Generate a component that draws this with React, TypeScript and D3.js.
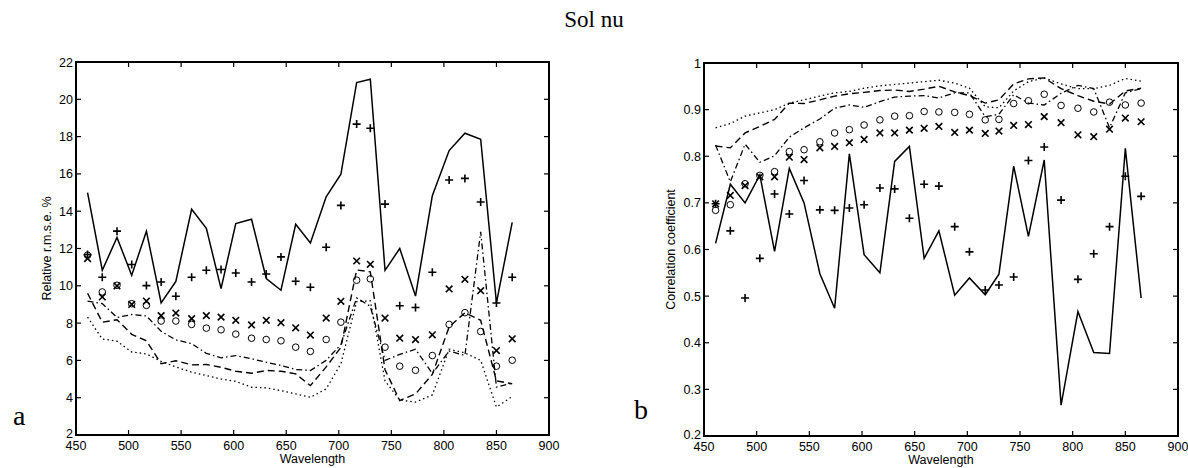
import React from "react";
import * as d3 from "d3";

const wavelengths = [461, 475, 489, 503, 517, 531, 545, 560, 574, 588, 602, 617, 631, 645, 659, 673, 688, 702, 717, 730, 744, 758, 773, 789, 805, 820, 835, 850, 865];

// Panel a: relative r.m.s.e. %
const rmseSolid = [15.0, 10.83, 12.59, 10.56, 12.93, 9.08, 10.24, 14.1, 13.08, 9.85, 13.34, 13.57, 10.39, 9.76, 13.3, 12.3, 14.77, 15.98, 20.9, 21.08, 10.83, 12.0, 9.45, 14.83, 17.25, 18.18, 17.86, 9.08, 13.4];
const rmsePlus = [11.68, 10.46, 12.93, 11.14, 10.01, 10.2, 9.44, 10.46, 10.83, 10.87, 10.69, 10.2, 10.63, 11.55, 10.24, 9.92, 12.07, 14.31, 18.67, 18.45, 14.38, 8.93, 8.84, 10.73, 15.67, 15.76, 14.49, 9.08, 10.46];
const rmseCross = [11.46, 9.4, 9.99, 9.0, 9.18, 8.4, 8.54, 8.24, 8.4, 8.32, 8.15, 7.9, 8.15, 8.02, 7.75, 7.36, 8.27, 9.17, 11.33, 11.15, 8.27, 7.19, 7.12, 7.37, 9.83, 10.35, 9.74, 6.53, 7.16];
const rmseCircle = [11.64, 9.67, 10.03, 9.04, 8.95, 8.11, 8.11, 7.93, 7.73, 7.64, 7.41, 7.19, 7.12, 7.05, 6.71, 6.48, 7.12, 8.05, 10.3, 10.37, 6.71, 5.69, 5.47, 6.26, 7.93, 8.56, 7.55, 5.69, 6.01];
const rmseDashed = [9.6, 8.05, 8.18, 7.4, 7.05, 5.82, 5.98, 5.76, 5.78, 5.63, 5.42, 5.31, 5.46, 5.42, 5.28, 4.65, 5.65, 6.7, 10.85, 10.75, 5.5, 3.85, 4.2, 5.25, 7.8, 8.55, 8.15, 4.9, 4.75];
const rmseDashDot = [9.18, 9.05, 8.3, 8.46, 8.38, 7.56, 7.1, 6.9, 6.38, 6.14, 6.26, 6.09, 5.9, 5.73, 5.51, 5.46, 6.0, 6.85, 9.35, 8.9, 6.0, 6.32, 6.6, 5.3, 6.5, 6.27, 12.9, 4.57, 4.78];
const rmseDotted = [8.32, 7.15, 7.03, 6.45, 6.35, 5.95, 5.65, 5.37, 5.19, 5.0, 4.88, 4.56, 4.53, 4.38, 4.2, 4.02, 4.47, 5.82, 9.15, 9.2, 4.9, 3.88, 3.76, 4.15, 6.6, 6.4, 6.0, 3.5, 4.06];

// Panel b: correlation coefficient
const corrSolid = [0.613, 0.74, 0.70, 0.76, 0.596, 0.774, 0.70, 0.548, 0.474, 0.805, 0.589, 0.55, 0.789, 0.821, 0.581, 0.64, 0.502, 0.539, 0.503, 0.547, 0.779, 0.628, 0.792, 0.266, 0.467, 0.379, 0.377, 0.817, 0.496];
const corrPlus = [0.698, 0.64, 0.496, 0.581, 0.719, 0.676, 0.748, 0.685, 0.684, 0.689, 0.696, 0.732, 0.73, 0.667, 0.74, 0.736, 0.649, 0.595, 0.513, 0.524, 0.541, 0.791, 0.82, 0.706, 0.536, 0.591, 0.649, 0.757, 0.714];
const corrCross = [0.698, 0.716, 0.737, 0.756, 0.756, 0.798, 0.793, 0.818, 0.821, 0.829, 0.836, 0.85, 0.85, 0.856, 0.86, 0.864, 0.851, 0.856, 0.849, 0.854, 0.866, 0.868, 0.885, 0.872, 0.846, 0.842, 0.858, 0.882, 0.874];
const corrCircle = [0.684, 0.696, 0.741, 0.759, 0.767, 0.81, 0.814, 0.831, 0.85, 0.857, 0.867, 0.878, 0.886, 0.887, 0.896, 0.895, 0.894, 0.89, 0.878, 0.879, 0.913, 0.919, 0.933, 0.909, 0.903, 0.895, 0.916, 0.91, 0.914];
const corrDashed = [0.822, 0.818, 0.85, 0.864, 0.879, 0.914, 0.913, 0.921, 0.929, 0.934, 0.937, 0.941, 0.942, 0.939, 0.944, 0.95, 0.938, 0.93, 0.914, 0.921, 0.955, 0.966, 0.968, 0.945, 0.93, 0.918, 0.912, 0.94, 0.946];
const corrDashDot = [0.824, 0.745, 0.826, 0.787, 0.801, 0.841, 0.861, 0.88, 0.903, 0.91, 0.905, 0.917, 0.927, 0.929, 0.93, 0.925, 0.936, 0.936, 0.885, 0.89, 0.932, 0.914, 0.91, 0.935, 0.952, 0.945, 0.861, 0.936, 0.945];
const corrDotted = [0.861, 0.87, 0.886, 0.893, 0.9, 0.914, 0.921, 0.929, 0.936, 0.939, 0.946, 0.951, 0.954, 0.957, 0.96, 0.963, 0.957, 0.946, 0.906, 0.904, 0.94, 0.96, 0.968, 0.955, 0.945, 0.945, 0.952, 0.967, 0.961];

const xTicks = [450, 500, 550, 600, 650, 700, 750, 800, 850, 900];
const yTicksA = [2, 4, 6, 8, 10, 12, 14, 16, 18, 20, 22];
const yTicksB = [0.2, 0.3, 0.4, 0.5, 0.6, 0.7, 0.8, 0.9, 1];

const title = "Sol nu";
const xLabel = "Wavelength";
const yLabelA = "Relative r.m.s.e. %";
const yLabelB = "Correlation coefficient";

const SANS = "'Liberation Sans', Arial, Helvetica, sans-serif";
const SERIF = "'Liberation Serif', 'Times New Roman', serif";

type PanelProps = {
  x0: number; x1: number; y0: number; y1: number;
  yDomain: [number, number];
  yTicks: number[];
  yFmt: (v: number) => string;
  yLabel: string;
  yLabelX: number;
  letter: string; letterX: number; letterY: number;
  solid: number[]; plus: number[]; cross: number[]; circle: number[];
  dashed: number[]; dashDot: number[]; dotted: number[];
};

function Panel(p: PanelProps) {
  const x = d3.scaleLinear().domain([450, 900]).range([p.x0, p.x1]);
  const y = d3.scaleLinear().domain(p.yDomain).range([p.y1, p.y0]);
  const line = (vals: number[]) =>
    d3.line<number>().x((_, i) => x(wavelengths[i])).y((v) => y(v))(vals) || "";
  const tl = 5;
  return (
    <g>
      <path d={line(p.solid)} fill="none" stroke="#000" strokeWidth={1.5} />
      <path d={line(p.dashed)} fill="none" stroke="#000" strokeWidth={1.4} strokeDasharray="7,4" />
      <path d={line(p.dashDot)} fill="none" stroke="#000" strokeWidth={1.3} strokeDasharray="6,3,1.5,3" />
      <path d={line(p.dotted)} fill="none" stroke="#000" strokeWidth={1.3} strokeDasharray="1.5,3" />
      {p.plus.map((v, i) => {
        const cx = x(wavelengths[i]), cy = y(v), r = 4;
        return <path key={"p" + i} d={`M${cx - r},${cy}H${cx + r}M${cx},${cy - r}V${cy + r}`} stroke="#000" strokeWidth={1.6} />;
      })}
      {p.cross.map((v, i) => {
        const cx = x(wavelengths[i]), cy = y(v), r = 3.3;
        return <path key={"x" + i} d={`M${cx - r},${cy - r}L${cx + r},${cy + r}M${cx - r},${cy + r}L${cx + r},${cy - r}`} stroke="#000" strokeWidth={1.6} />;
      })}
      {p.circle.map((v, i) => (
        <circle key={"o" + i} cx={x(wavelengths[i])} cy={y(v)} r={3.3} fill="none" stroke="#000" strokeWidth={1} />
      ))}
      <rect x={p.x0} y={p.y0} width={p.x1 - p.x0} height={p.y1 - p.y0} fill="none" stroke="#000" strokeWidth={2} />
      {xTicks.map((t) => (
        <g key={"xt" + t}>
          <line x1={x(t)} x2={x(t)} y1={p.y1} y2={p.y1 - tl} stroke="#000" strokeWidth={1.2} />
          <line x1={x(t)} x2={x(t)} y1={p.y0} y2={p.y0 + tl} stroke="#000" strokeWidth={1.2} />
          <text x={x(t)} y={p.y1 + 15} textAnchor="middle" fontFamily={SANS} fontSize={12.5}>{t}</text>
        </g>
      ))}
      {p.yTicks.map((t, i) => (
        <g key={"yt" + t}>
          <line x1={p.x0} x2={p.x0 + tl} y1={y(t)} y2={y(t)} stroke="#000" strokeWidth={1.2} />
          <line x1={p.x1} x2={p.x1 - tl} y1={y(t)} y2={y(t)} stroke="#000" strokeWidth={1.2} />
          <text x={p.x0 - 3} y={y(t) + (i === 0 ? 2.5 : 4.5)} textAnchor="end" fontFamily={SANS} fontSize={12.5}>{p.yFmt(t)}</text>
        </g>
      ))}
      <text x={(p.x0 + p.x1) / 2} y={p.y1 + 28} textAnchor="middle" fontFamily={SANS} fontSize={12.5}>{xLabel}</text>
      <text transform={`translate(${p.yLabelX},${(p.y0 + p.y1) / 2}) rotate(-90)`} textAnchor="middle" fontFamily={SANS} fontSize={12.5}>{p.yLabel}</text>
      <text x={p.letterX} y={p.letterY} fontFamily={SERIF} fontSize={28}>{p.letter}</text>
    </g>
  );
}

export default function App() {
  return (
    <svg width={1188} height={468} style={{ position: "absolute", left: 0, top: 0, background: "#fff" }}>
      <rect width={1188} height={468} fill="#fff" />
      <text x={594} y={27} textAnchor="middle" fontFamily={SERIF} fontSize={23}>{title}</text>
      <Panel
        x0={76} x1={549} y0={62} y1={435}
        yDomain={[2, 22]} yTicks={yTicksA} yFmt={(v) => String(v)}
        yLabel={yLabelA} yLabelX={51}
        letter="a" letterX={13} letterY={425}
        solid={rmseSolid} plus={rmsePlus} cross={rmseCross} circle={rmseCircle}
        dashed={rmseDashed} dashDot={rmseDashDot} dotted={rmseDotted}
      />
      <Panel
        x0={704} x1={1178} y0={63} y1={436}
        yDomain={[0.2, 1]} yTicks={yTicksB} yFmt={(v) => (v === 1 ? "1" : v.toFixed(1))}
        yLabel={yLabelB} yLabelX={675}
        letter="b" letterX={634} letterY={419}
        solid={corrSolid} plus={corrPlus} cross={corrCross} circle={corrCircle}
        dashed={corrDashed} dashDot={corrDashDot} dotted={corrDotted}
      />
    </svg>
  );
}
